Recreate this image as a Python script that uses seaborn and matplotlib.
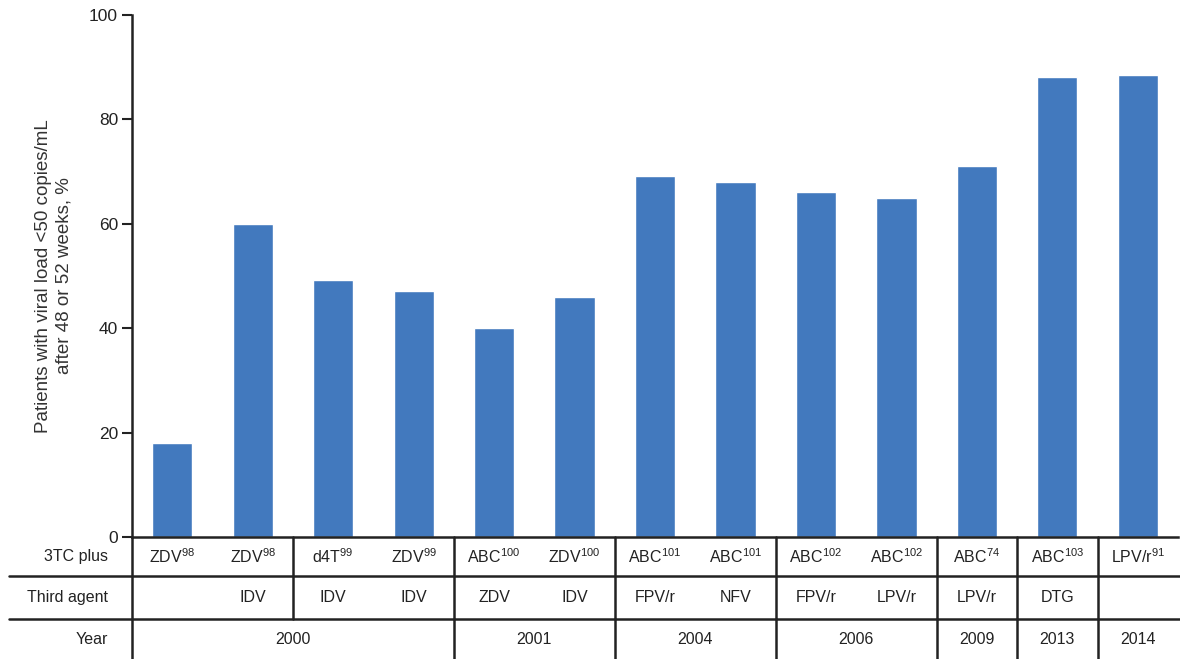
import numpy as np
import matplotlib.pyplot as plt
import matplotlib.transforms as mtransforms
import seaborn as sns

# bar heights (% patients <50 copies/mL)
values = [18, 60, 49.2, 47.1, 40, 46, 69.2, 68, 66, 65, 71, 88.1, 88.5]
plus_drug = ['ZDV', 'ZDV', 'd4T', 'ZDV', 'ABC', 'ZDV', 'ABC', 'ABC', 'ABC', 'ABC', 'ABC', 'ABC', 'LPV/r']
refs = ['98', '98', '99', '99', '100', '100', '101', '101', '102', '102', '74', '103', '91']
third_agent = ['', 'IDV', 'IDV', 'IDV', 'ZDV', 'IDV', 'FPV/r', 'NFV', 'FPV/r', 'LPV/r', 'LPV/r', 'DTG', '']
years = ['2000', '2001', '2004', '2006', '2009', '2013', '2014']
year_span = [4, 2, 2, 2, 1, 1, 1]
row_names = ['3TC plus', 'Third agent', 'Year']

sns.set_style('white')
plt.rcParams['font.family'] = ['Liberation Sans', 'DejaVu Sans']
plt.rcParams['mathtext.default'] = 'regular'

fig = plt.figure(figsize=(11.8, 6.59), dpi=100)
ax = fig.add_axes([132/1180, (659-537)/659, 1046/1180, 522/659])

x = np.arange(len(values))
sns.barplot(x=x, y=values, color='#4279BE', saturation=1, width=0.5, ax=ax)

ax.set_xlim(-0.5, len(values) - 0.5)
ax.set_ylim(0, 100)
ax.set_yticks([0, 20, 40, 60, 80, 100])
ax.tick_params(axis='y', labelsize=12.5, length=7, width=1.5, direction='out', left=True, pad=3, colors='#222222')
ax.set_xticks([])
ax.set_xlabel('')
for side in ['top', 'right']:
    ax.spines[side].set_visible(False)
for side in ['left', 'bottom']:
    ax.spines[side].set_linewidth(1.8)
    ax.spines[side].set_color('#222222')
ax.set_ylabel('Patients with viral load <50 copies/mL\nafter 48 or 52 weeks, %', fontsize=13.5,
              labelpad=12, color='#333333', linespacing=1.25)

# table under the chart
ah = 522.0
row_y = [0, -39/ah, -82/ah, -122/ah]
txt_y = [-19.5/ah, -60.5/ah, -103/ah]
lc = '#222222'
lw = 1.8
tr = ax.get_xaxis_transform()
hl = mtransforms.blended_transform_factory(fig.transFigure, ax.transAxes)

for y in row_y[1:3]:
    ax.plot([9/1180, 1], [y, y], transform=hl, color=lc, lw=lw, clip_on=False)

# left border of table
ax.plot([-0.5, -0.5], [row_y[0], row_y[3]], transform=tr, color=lc, lw=lw, clip_on=False)

# column dividers for rows 1 and 2
for b in [1.5, 3.5, 5.5, 7.5, 9.5, 10.5, 11.5]:
    ax.plot([b, b], [row_y[0], row_y[2]], transform=tr, color=lc, lw=lw, clip_on=False)
# year row dividers
edges = np.cumsum(year_span) - 0.5
for b in edges[:-1]:
    ax.plot([b, b], [row_y[2], row_y[3]], transform=tr, color=lc, lw=lw, clip_on=False)

# row labels
for name, y in zip(row_names, txt_y):
    ax.text(-0.8, y, name, transform=tr, ha='right', va='center', fontsize=11.5, color='#222222')

for i in x:
    ax.text(i, txt_y[0], plus_drug[i] + '$^{' + refs[i] + '}$', transform=tr,
            ha='center', va='center', fontsize=11.5, color='#222222')
    if third_agent[i]:
        ax.text(i, txt_y[1], third_agent[i], transform=tr,
                ha='center', va='center', fontsize=11.5, color='#222222')

start = -0.5
for yr, span in zip(years, year_span):
    ax.text(start + span / 2, txt_y[2], yr, transform=tr,
            ha='center', va='center', fontsize=11.5, color='#222222')
    start += span

fig.savefig('out.png', dpi=100)
